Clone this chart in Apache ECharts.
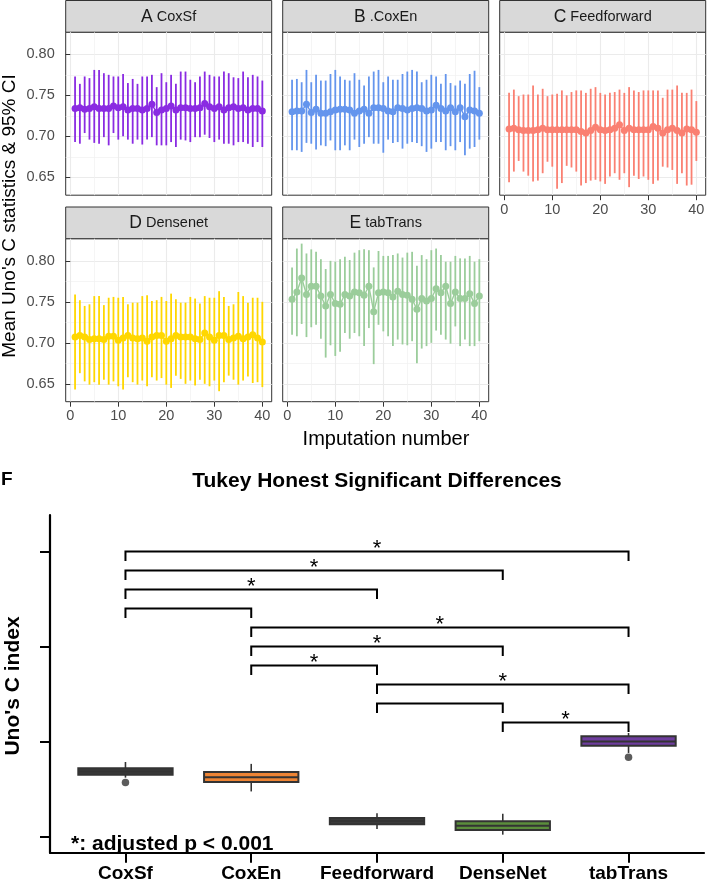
<!DOCTYPE html>
<html lang="en">
<head>
<meta charset="UTF-8">
<title>Uno's C statistics</title>
<script src="https://cdn.jsdelivr.net/npm/echarts@6.0.0/dist/echarts.min.js"></script>
<style>body{margin:0;background:#fff}</style>
</head>
<body>
<div id="main" style="width:708px;height:884px"></div>
<script>
// imputation number (x of the facet panels)
var imputation = [1,2,3,4,5,6,7,8,9,10,11,12,13,14,15,16,17,18,19,20,21,22,23,24,25,26,27,28,29,30,31,32,33,34,35,36,37,38,39,40];

// A CoxSf
var coxsfMean = [0.734,0.735,0.733,0.734,0.736,0.734,0.734,0.734,0.737,0.735,0.736,0.732,0.734,0.734,0.732,0.734,0.739,0.729,0.732,0.734,0.737,0.732,0.735,0.735,0.734,0.734,0.735,0.740,0.736,0.734,0.736,0.732,0.735,0.736,0.734,0.735,0.732,0.734,0.734,0.731];
var coxsfLow = [0.693,0.691,0.704,0.696,0.692,0.691,0.699,0.689,0.704,0.696,0.700,0.696,0.691,0.696,0.690,0.696,0.699,0.689,0.689,0.689,0.693,0.687,0.696,0.695,0.693,0.699,0.699,0.702,0.698,0.693,0.696,0.691,0.691,0.689,0.693,0.693,0.691,0.687,0.693,0.687];
var coxsfHigh = [0.773,0.764,0.773,0.771,0.781,0.781,0.777,0.775,0.773,0.773,0.776,0.765,0.770,0.764,0.773,0.773,0.775,0.760,0.777,0.766,0.775,0.764,0.779,0.779,0.769,0.766,0.773,0.779,0.775,0.773,0.773,0.779,0.777,0.772,0.771,0.779,0.772,0.775,0.773,0.768];

// B .CoxEn
var coxenMean = [0.730,0.731,0.731,0.739,0.729,0.733,0.728,0.728,0.730,0.732,0.733,0.733,0.732,0.728,0.731,0.733,0.728,0.735,0.735,0.734,0.731,0.730,0.735,0.734,0.732,0.734,0.735,0.734,0.731,0.732,0.738,0.734,0.731,0.735,0.730,0.735,0.724,0.732,0.731,0.728];
var coxenLow = [0.683,0.683,0.681,0.692,0.691,0.684,0.689,0.688,0.695,0.683,0.683,0.689,0.683,0.696,0.687,0.691,0.699,0.691,0.691,0.680,0.696,0.692,0.693,0.685,0.691,0.693,0.692,0.688,0.681,0.685,0.693,0.693,0.683,0.688,0.683,0.693,0.677,0.685,0.687,0.696];
var coxenHigh = [0.769,0.770,0.766,0.781,0.766,0.775,0.768,0.768,0.776,0.781,0.773,0.769,0.768,0.777,0.769,0.762,0.773,0.779,0.781,0.766,0.773,0.769,0.769,0.776,0.779,0.781,0.779,0.766,0.769,0.775,0.773,0.764,0.776,0.765,0.762,0.768,0.764,0.776,0.780,0.760];

// C Feedforward
var ffMean = [0.709,0.710,0.708,0.707,0.707,0.707,0.708,0.710,0.708,0.708,0.708,0.708,0.708,0.708,0.708,0.706,0.704,0.707,0.711,0.708,0.707,0.708,0.710,0.714,0.707,0.710,0.708,0.708,0.708,0.708,0.712,0.710,0.704,0.708,0.710,0.707,0.704,0.709,0.708,0.705];
var ffLow = [0.644,0.657,0.670,0.657,0.652,0.645,0.646,0.655,0.669,0.663,0.636,0.643,0.664,0.662,0.657,0.640,0.643,0.646,0.647,0.645,0.642,0.651,0.655,0.647,0.655,0.638,0.652,0.648,0.651,0.647,0.642,0.646,0.663,0.662,0.659,0.642,0.655,0.640,0.641,0.670];
var ffHigh = [0.753,0.757,0.749,0.751,0.751,0.762,0.751,0.758,0.749,0.751,0.752,0.756,0.750,0.754,0.756,0.756,0.753,0.758,0.760,0.753,0.751,0.753,0.754,0.757,0.753,0.760,0.756,0.754,0.756,0.756,0.756,0.756,0.747,0.757,0.757,0.762,0.753,0.753,0.757,0.743];

// D Densenet
var dnMean = [0.707,0.709,0.707,0.704,0.705,0.705,0.704,0.708,0.708,0.703,0.706,0.709,0.706,0.705,0.706,0.702,0.707,0.709,0.709,0.702,0.705,0.709,0.707,0.707,0.707,0.705,0.704,0.712,0.707,0.703,0.709,0.709,0.704,0.706,0.708,0.705,0.707,0.710,0.706,0.701];
var dnLow = [0.643,0.663,0.653,0.649,0.652,0.649,0.655,0.649,0.653,0.647,0.643,0.658,0.652,0.649,0.654,0.647,0.658,0.654,0.657,0.649,0.645,0.660,0.656,0.650,0.654,0.648,0.655,0.650,0.647,0.654,0.641,0.652,0.660,0.655,0.649,0.654,0.659,0.651,0.652,0.646];
var dnHigh = [0.759,0.752,0.745,0.747,0.757,0.757,0.746,0.755,0.756,0.755,0.756,0.747,0.749,0.749,0.757,0.758,0.751,0.752,0.756,0.751,0.760,0.753,0.749,0.749,0.756,0.754,0.748,0.757,0.755,0.755,0.763,0.756,0.745,0.747,0.762,0.757,0.749,0.755,0.755,0.750];

// E tabTrans
var ttMean = [0.753,0.762,0.779,0.759,0.769,0.769,0.757,0.745,0.759,0.748,0.747,0.759,0.757,0.762,0.761,0.758,0.769,0.738,0.761,0.762,0.761,0.756,0.763,0.759,0.758,0.753,0.741,0.754,0.751,0.754,0.766,0.761,0.769,0.748,0.762,0.754,0.754,0.760,0.748,0.757];
var ttLow = [0.710,0.708,0.723,0.707,0.719,0.722,0.705,0.682,0.697,0.684,0.689,0.712,0.705,0.712,0.708,0.696,0.718,0.674,0.722,0.714,0.708,0.696,0.704,0.698,0.697,0.702,0.675,0.693,0.696,0.700,0.715,0.710,0.704,0.699,0.720,0.696,0.704,0.696,0.696,0.702];
var ttHigh = [0.792,0.815,0.821,0.809,0.814,0.811,0.802,0.790,0.800,0.799,0.802,0.805,0.801,0.810,0.813,0.814,0.813,0.792,0.812,0.806,0.806,0.807,0.809,0.804,0.810,0.811,0.794,0.807,0.802,0.813,0.815,0.807,0.799,0.799,0.806,0.803,0.803,0.806,0.799,0.802];

// tick values of the facet panels
var xMajorTicks = [0, 10, 20, 30, 40];
var xMinorTicks = [5, 15, 25, 35];
var yMajorTicks = [0.65, 0.70, 0.75, 0.80];
var yMinorTicks = [0.675, 0.725, 0.775];

// F: Tukey HSD boxplot (min, Q1, median, Q3, max)
var models = ['CoxSf', 'CoxEn', 'Feedforward', 'DenseNet', 'tabTrans'];
var boxStats = [
    [0.7124, 0.7130, 0.7137, 0.7144, 0.7157],
    [0.7095, 0.7115, 0.7125, 0.7136, 0.7153],
    [0.7016, 0.7026, 0.7033, 0.7039, 0.7049],
    [0.7004, 0.7014, 0.7023, 0.7032, 0.7048],
    [0.7176, 0.7191, 0.7200, 0.7211, 0.7218]
];
var outlierModel = [0, 4];
var outlierValue = [0.7114, 0.7167];
var fTicks = [0.70, 0.72, 0.74, 0.76];

// significance brackets
var bracketFrom = [0, 0, 0, 0, 1, 1, 1, 2, 2, 3];
var bracketTo   = [4, 3, 2, 1, 4, 3, 2, 4, 3, 4];
var bracketY    = [0.760, 0.756, 0.752, 0.748, 0.744, 0.740, 0.736, 0.732, 0.728, 0.724];
var bracketSig  = ['*', '*', '*', '', '*', '*', '*', '*', '', '*'];

var myChart = echarts.init(document.getElementById('main'));
var font = 'Liberation Sans, Arial, Helvetica, sans-serif';

var panels = [
    {tag: 'A', name: 'CoxSf',       color: '#8A2BE2', mean: coxsfMean, low: coxsfLow, high: coxsfHigh, left: 65.7,  row: 0, xLab: false, yLab: true},
    {tag: 'B', name: '.CoxEn',      color: '#6495ED', mean: coxenMean, low: coxenLow, high: coxenHigh, left: 282.7, row: 0, xLab: false, yLab: false},
    {tag: 'C', name: 'Feedforward', color: '#FA8072', mean: ffMean,    low: ffLow,    high: ffHigh,    left: 499.7, row: 0, xLab: true,  yLab: false},
    {tag: 'D', name: 'Densenet',    color: '#FFD700', mean: dnMean,    low: dnLow,    high: dnHigh,    left: 65.7,  row: 1, xLab: true,  yLab: true},
    {tag: 'E', name: 'tabTrans',    color: '#9BCD9B', mean: ttMean,    low: ttLow,    high: ttHigh,    left: 282.7, row: 1, xLab: true,  yLab: false}
];
var rowTop = [32.2, 238.7];
var panelW = 206, panelH = 163, stripH = 31.7;
var xMin = -0.95, xMax = 41.95, yMin = 0.6282, yMax = 0.827;

var grids = [], xAxes = [], yAxes = [], series = [], graphics = [];

panels.forEach(function (pn, p) {
    var top = rowTop[pn.row];
    grids.push({
        left: pn.left, top: top, width: panelW, height: panelH,
        show: true, backgroundColor: '#fff', borderColor: '#333', borderWidth: 1,
        outerBoundsMode: 'none'
    });
    // major x / minor x
    xAxes.push({
        type: 'value', gridIndex: p, min: xMin, max: xMax,
        axisLine: {show: false},
        axisTick: {show: pn.xLab, customValues: xMajorTicks, length: 5, lineStyle: {color: '#333'}},
        axisLabel: {show: pn.xLab, customValues: xMajorTicks, color: '#4D4D4D', fontSize: 14.5, fontFamily: font, margin: 7},
        splitLine: {show: true, lineStyle: {color: '#EBEBEB', width: 1.1}}
    });
    xAxes.push({
        type: 'value', gridIndex: p, min: xMin, max: xMax, position: 'bottom',
        axisLine: {show: false},
        axisTick: {show: false, customValues: xMinorTicks},
        axisLabel: {show: false},
        splitLine: {show: true, lineStyle: {color: '#F0F0F0', width: 0.7}}
    });
    yAxes.push({
        type: 'value', gridIndex: p, min: yMin, max: yMax,
        axisLine: {show: false},
        axisTick: {show: pn.yLab, customValues: yMajorTicks, length: 5, lineStyle: {color: '#333'}},
        axisLabel: {show: pn.yLab, customValues: yMajorTicks, color: '#4D4D4D', fontSize: 14.5, fontFamily: font, margin: 11,
            formatter: function (v) { return v.toFixed(2); }},
        splitLine: {show: true, lineStyle: {color: '#EBEBEB', width: 1.1}}
    });
    yAxes.push({
        type: 'value', gridIndex: p, min: yMin, max: yMax, position: 'left',
        axisLine: {show: false},
        axisTick: {show: false, customValues: yMinorTicks},
        axisLabel: {show: false},
        splitLine: {show: true, lineStyle: {color: '#F0F0F0', width: 0.7}}
    });

    // 95% CI bars
    series.push({
        type: 'custom', xAxisIndex: 2 * p, yAxisIndex: 2 * p,
        itemStyle: {color: pn.color},
        data: imputation.map(function (x, i) { return [x, pn.low[i], pn.high[i]]; }),
        encode: {x: 0, y: [1, 2]},
        renderItem: function (params, api) {
            var a = api.coord([api.value(0), api.value(1)]);
            var b = api.coord([api.value(0), api.value(2)]);
            return {type: 'line', shape: {x1: a[0], y1: a[1], x2: b[0], y2: b[1]},
                style: {stroke: api.visual('color'), lineWidth: 1.8}};
        },
        silent: true
    });
    // mean line + points
    series.push({
        type: 'line', xAxisIndex: 2 * p, yAxisIndex: 2 * p,
        data: imputation.map(function (x, i) { return [x, pn.mean[i]]; }),
        symbol: 'circle', symbolSize: 7, showSymbol: true,
        itemStyle: {color: pn.color},
        lineStyle: {color: pn.color, width: 1.4},
        silent: true
    });

    // strip
    graphics.push({
        type: 'rect', shape: {x: pn.left, y: top - stripH, width: panelW, height: stripH},
        style: {fill: '#D9D9D9', stroke: '#333', lineWidth: 1}
    });
    graphics.push({
        type: 'text', x: pn.left + panelW / 2, y: top - stripH / 2 + 0.5,
        style: {
            text: '{a|' + pn.tag + '} {b|' + pn.name + '}',
            align: 'center', verticalAlign: 'middle',
            fontFamily: font, fontSize: 14.5, fill: '#1A1A1A',
            rich: {
                a: {fontSize: 17.5, fontFamily: font, fill: '#1A1A1A'},
                b: {fontSize: 14.5, fontFamily: font, fill: '#1A1A1A'}
            }
        }
    });
});

// boxplot panel
var fGrid = grids.length;
grids.push({left: 50, right: 4, top: 515, bottom: 31.3, outerBoundsMode: 'none'});
var fAxis = xAxes.length;
xAxes.push({
    type: 'value', gridIndex: fGrid, min: -0.6, max: 4.6,
    axisLine: {show: true, onZero: false, lineStyle: {color: '#000', width: 2.2}},
    axisTick: {show: true, customValues: [0, 1, 2, 3, 4], length: 10, lineStyle: {color: '#000', width: 2}},
    axisLabel: {customValues: [0, 1, 2, 3, 4], formatter: function (v) { return models[v]; },
        color: '#000', fontWeight: 'bold', fontSize: 19, fontFamily: font, margin: 12},
    splitLine: {show: false}
});
yAxes.push({
    type: 'value', gridIndex: fGrid, min: 0.6966, max: 0.7677,
    axisLine: {show: true, onZero: false, lineStyle: {color: '#000', width: 2.2}},
    axisTick: {show: true, customValues: fTicks, length: 10, lineStyle: {color: '#000', width: 2}},
    axisLabel: {show: false},
    splitLine: {show: false}
});

var boxFill = ['#3A3A3A', '#EE8434', '#3A3A3A', '#5B8E3C', '#6E3D9E'];
var boxHalf = 0.375;

series.push({
    type: 'custom', xAxisIndex: fAxis, yAxisIndex: fAxis,
    data: boxStats.map(function (s, i) { return [i].concat(s); }),
    encode: {x: 0, y: [1, 2, 3, 4, 5]},
    renderItem: function (params, api) {
        var x = api.value(0);
        var lo = api.coord([x, api.value(1)]);
        var q1 = api.coord([x, api.value(2)]);
        var md = api.coord([x, api.value(3)]);
        var q3 = api.coord([x, api.value(4)]);
        var hi = api.coord([x, api.value(5)]);
        var half = api.size([boxHalf, 0])[0];
        var st = '#333';
        return {type: 'group', children: [
            {type: 'line', shape: {x1: hi[0], y1: hi[1], x2: q3[0], y2: q3[1]}, style: {stroke: st, lineWidth: 1.6}},
            {type: 'line', shape: {x1: q1[0], y1: q1[1], x2: lo[0], y2: lo[1]}, style: {stroke: st, lineWidth: 1.6}},
            {type: 'rect', shape: {x: md[0] - half, y: q3[1], width: 2 * half, height: q1[1] - q3[1]},
                style: {fill: boxFill[params.dataIndex], stroke: st, lineWidth: 2}},
            {type: 'line', shape: {x1: md[0] - half, y1: md[1], x2: md[0] + half, y2: md[1]}, style: {stroke: st, lineWidth: 2}}
        ]};
    },
    silent: true
});

series.push({
    type: 'scatter', xAxisIndex: fAxis, yAxisIndex: fAxis,
    data: outlierModel.map(function (m, i) { return [m, outlierValue[i]]; }),
    symbol: 'circle', symbolSize: 7.5, itemStyle: {color: '#333'}, silent: true
});

series.push({
    type: 'custom', xAxisIndex: fAxis, yAxisIndex: fAxis,
    data: bracketFrom.map(function (f, i) { return [f, bracketTo[i], bracketY[i]]; }),
    encode: {x: [0, 1], y: 2},
    renderItem: function (params, api) {
        var y = api.value(2);
        var a = api.coord([api.value(0), y]);
        var b = api.coord([api.value(1), y]);
        var tip = api.size([0, 0.002])[1];
        return {type: 'group', children: [
            {type: 'polyline', shape: {points: [[a[0], a[1] + tip], [a[0], a[1]], [b[0], b[1]], [b[0], b[1] + tip]]},
                style: {stroke: '#000', lineWidth: 2, fill: 'none'}},
            {type: 'text', x: (a[0] + b[0]) / 2, y: a[1] - 3,
                style: {text: bracketSig[params.dataIndex], fontSize: 22, fontFamily: font, fill: '#000',
                    align: 'center', verticalAlign: 'middle'}}
        ]};
    },
    silent: true
});

// titles and notes
graphics.push(
    {type: 'text', x: 10, y: 216, rotation: Math.PI / 2,
        style: {text: "Mean Uno's C statistics & 95% CI", fontSize: 19, fontFamily: font, fill: '#000', align: 'center', verticalAlign: 'middle'}},
    {type: 'text', x: 386, y: 439,
        style: {text: 'Imputation number', fontSize: 20, fontFamily: font, fill: '#000', align: 'center', verticalAlign: 'middle'}},
    {type: 'text', x: 1, y: 480,
        style: {text: 'F', fontSize: 19, fontWeight: 'bold', fontFamily: font, fill: '#000', align: 'left', verticalAlign: 'middle'}},
    {type: 'text', x: 377, y: 481,
        style: {text: 'Tukey Honest Significant Differences', fontSize: 21, fontWeight: 'bold', fontFamily: font, fill: '#000', align: 'center', verticalAlign: 'middle'}},
    {type: 'text', x: 13, y: 686, rotation: Math.PI / 2,
        style: {text: "Uno's C index", fontSize: 21, fontWeight: 'bold', fontFamily: font, fill: '#000', align: 'center', verticalAlign: 'middle'}},
    {type: 'text', x: 71, y: 844, z: 100,
        style: {text: '*: adjusted p < 0.001', fontSize: 21, fontWeight: 'bold', fontFamily: font, fill: '#000', align: 'left', verticalAlign: 'middle'}}
);

var option = {
    animation: false,
    backgroundColor: '#fff',
    grid: grids,
    xAxis: xAxes,
    yAxis: yAxes,
    series: series,
    graphic: graphics
};

myChart.setOption(option);
</script>
</body>
</html>
